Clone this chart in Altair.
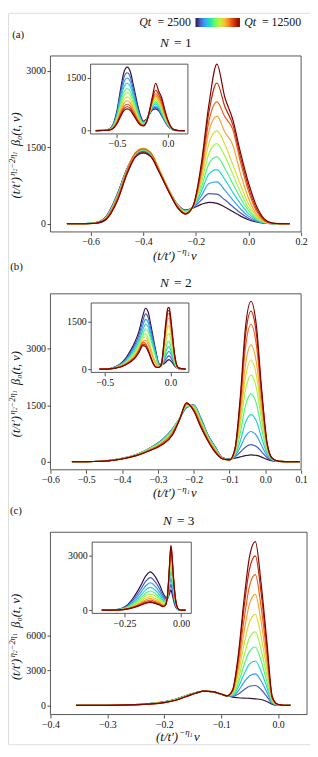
import altair as alt
import pandas as pd

QT = [2500, 3500, 4500, 5500, 6500, 7500, 8500, 9500, 10500, 11500, 12500]

# ---------------- panel (a) ----------------
A_MAIN_X = [-0.69, -0.62, -0.58, -0.54, -0.50, -0.46, -0.43, -0.40, -0.37, -0.34, -0.30, -0.27, -0.24,
            -0.21, -0.18, -0.15, -0.12, -0.09, -0.06, -0.03, 0.0, 0.03, 0.06, 0.09, 0.12, 0.157]
A_MAIN_Y = [
    [0, 3, 22, 150, 560, 1100, 1360, 1420, 1320, 1040, 640, 380, 270, 310, 380, 420, 400, 330, 240, 150, 80, 35, 10, 2, 0, 0],
    [0, 3, 22, 150, 560, 1100, 1360, 1420, 1320, 1040, 640, 380, 265, 320, 460, 590, 580, 470, 340, 210, 110, 45, 12, 2, 0, 0],
    [0, 3, 20, 140, 540, 1090, 1365, 1435, 1340, 1050, 640, 375, 255, 330, 540, 790, 820, 660, 470, 290, 150, 60, 15, 3, 0, 0],
    [0, 2, 18, 130, 520, 1080, 1370, 1450, 1360, 1060, 640, 370, 250, 330, 620, 980, 1060, 870, 620, 390, 200, 80, 20, 3, 0, 0],
    [0, 2, 18, 130, 520, 1080, 1370, 1450, 1360, 1060, 640, 370, 240, 335, 700, 1180, 1310, 1090, 790, 500, 260, 100, 25, 4, 0, 0],
    [0, 2, 16, 120, 500, 1070, 1390, 1480, 1390, 1080, 640, 360, 230, 340, 780, 1380, 1570, 1330, 980, 620, 320, 120, 30, 5, 0, 0],
    [0, 2, 16, 120, 500, 1070, 1390, 1480, 1390, 1080, 640, 360, 220, 345, 860, 1580, 1820, 1560, 1170, 760, 390, 150, 40, 6, 0, 0],
    [0, 2, 14, 110, 480, 1060, 1390, 1470, 1380, 1060, 620, 340, 210, 350, 940, 1820, 2110, 1800, 1550, 980, 500, 190, 50, 8, 1, 0],
    [0, 2, 14, 110, 480, 1060, 1390, 1470, 1380, 1060, 620, 340, 200, 350, 1010, 2020, 2390, 2100, 1850, 1200, 640, 250, 65, 10, 1, 0],
    [0, 1, 10, 90, 430, 1000, 1310, 1390, 1310, 1020, 600, 320, 195, 355, 1080, 2200, 2760, 2300, 1950, 1300, 720, 300, 80, 12, 2, 0],
    [0, 1, 10, 90, 430, 1000, 1310, 1390, 1310, 1020, 600, 320, 190, 355, 1150, 2350, 3130, 2480, 2050, 1390, 805, 355, 97, 15, 2, 0],
]
A_INSET_X = [-0.71, -0.64, -0.58, -0.54, -0.50, -0.46, -0.43, -0.40, -0.37, -0.34, -0.30, -0.27, -0.24,
             -0.21, -0.18, -0.15, -0.12, -0.09, -0.06, -0.03, 0.0, 0.03, 0.06, 0.10, 0.165]
A_INSET_Y = [
    [0, 5, 36, 163, 580, 1267, 1683, 1810, 1683, 1303, 760, 430, 270, 330, 470, 590, 620, 560, 420, 260, 130, 50, 12, 1, 0],
    [0, 5, 33, 149, 528, 1155, 1535, 1650, 1535, 1188, 693, 390, 250, 320, 480, 620, 660, 590, 440, 275, 140, 55, 14, 1, 0],
    [0, 4, 30, 135, 480, 1050, 1395, 1500, 1395, 1080, 630, 355, 235, 310, 490, 650, 700, 620, 465, 290, 150, 58, 15, 1, 0],
    [0, 4, 27, 122, 432, 945, 1256, 1350, 1256, 972, 567, 320, 215, 300, 500, 690, 760, 670, 500, 315, 165, 62, 16, 2, 0],
    [0, 4, 24, 108, 384, 840, 1116, 1200, 1116, 864, 504, 285, 200, 290, 510, 730, 820, 720, 540, 340, 180, 68, 17, 2, 0],
    [0, 3, 22, 97, 346, 756, 1004, 1080, 1004, 778, 454, 258, 185, 280, 520, 770, 880, 780, 590, 370, 195, 75, 18, 2, 0],
    [0, 3, 19, 86, 307, 672, 893, 960, 893, 691, 403, 232, 172, 272, 530, 800, 930, 830, 640, 400, 210, 80, 20, 2, 0],
    [0, 3, 17, 77, 272, 595, 790, 850, 790, 612, 357, 208, 160, 262, 535, 830, 980, 880, 690, 440, 230, 88, 22, 2, 0],
    [0, 2, 15, 68, 240, 525, 698, 750, 698, 540, 315, 188, 150, 255, 545, 870, 1050, 950, 770, 490, 255, 95, 24, 2, 0],
    [0, 2, 14, 61, 218, 476, 632, 680, 632, 490, 286, 172, 142, 250, 560, 920, 1150, 1030, 850, 540, 280, 105, 26, 3, 0],
    [0, 2, 12, 56, 198, 434, 577, 620, 577, 446, 260, 160, 135, 245, 580, 1000, 1350, 1120, 930, 590, 300, 110, 28, 3, 0],
]

# ---------------- panel (b) ----------------
B_MAIN_X = [-0.54, -0.48, -0.44, -0.40, -0.36, -0.32, -0.29, -0.26, -0.24, -0.22, -0.20, -0.18, -0.16, -0.14,
            -0.12, -0.10, -0.085, -0.07, -0.055, -0.04, -0.025, -0.01, 0.005, 0.02, 0.04, 0.07, 0.096]
B_MAIN_Y = [
    [0, 4, 25, 85, 190, 370, 560, 860, 1130, 1440, 1500, 1150, 700, 390, 110, 65, 90, 125, 160, 180, 165, 120, 60, 20, 4, 0, 0],
    [0, 4, 25, 85, 190, 370, 560, 860, 1130, 1440, 1500, 1150, 700, 390, 105, 60, 120, 250, 390, 450, 400, 260, 110, 30, 5, 0, 0],
    [0, 4, 25, 85, 190, 370, 560, 860, 1130, 1440, 1500, 1150, 700, 390, 100, 55, 140, 380, 680, 800, 700, 420, 160, 40, 6, 0, 0],
    [0, 4, 24, 82, 185, 360, 545, 840, 1140, 1470, 1480, 1100, 670, 360, 95, 52, 170, 540, 1050, 1250, 1080, 620, 220, 50, 7, 0, 0],
    [0, 4, 24, 82, 185, 360, 545, 840, 1140, 1470, 1480, 1100, 670, 360, 90, 50, 200, 750, 1500, 1800, 1540, 860, 280, 60, 8, 0, 0],
    [0, 3, 22, 78, 175, 340, 510, 800, 1130, 1500, 1450, 1040, 630, 320, 85, 48, 230, 950, 1920, 2300, 1960, 1080, 330, 65, 8, 0, 0],
    [0, 3, 22, 78, 175, 340, 510, 800, 1130, 1500, 1450, 1040, 630, 320, 82, 47, 250, 1100, 2260, 2700, 2300, 1250, 370, 70, 8, 0, 0],
    [0, 3, 21, 74, 168, 320, 475, 750, 1120, 1530, 1400, 980, 590, 290, 80, 46, 270, 1260, 2600, 3100, 2640, 1420, 400, 75, 8, 0, 0],
    [0, 3, 21, 74, 168, 320, 475, 750, 1120, 1530, 1400, 980, 590, 290, 78, 45, 300, 1470, 3070, 3650, 3100, 1660, 450, 80, 8, 0, 0],
    [0, 3, 20, 70, 160, 300, 440, 700, 1100, 1560, 1350, 920, 550, 250, 76, 45, 320, 1600, 3370, 4000, 3400, 1800, 480, 80, 8, 0, 0],
    [0, 3, 20, 70, 160, 300, 440, 700, 1100, 1560, 1350, 920, 550, 250, 75, 45, 330, 1700, 3600, 4260, 3620, 1900, 500, 85, 8, 0, 0],
]
B_INSET_X = [-0.54, -0.46, -0.42, -0.38, -0.34, -0.30, -0.27, -0.24, -0.21, -0.19, -0.17, -0.15, -0.13, -0.11,
             -0.09, -0.07, -0.05, -0.035, -0.02, -0.01, 0.0, 0.015, 0.03, 0.06, 0.115]
B_INSET_Y = [
    [0, 19, 77, 174, 347, 618, 869, 1197, 1698, 1930, 1814, 1409, 965, 540, 189, 137, 169, 225, 285, 300, 270, 195, 105, 15, 0],
    [0, 18, 70, 158, 315, 560, 788, 1085, 1540, 1750, 1645, 1278, 875, 490, 179, 154, 228, 315, 399, 420, 378, 273, 147, 21, 0],
    [0, 16, 63, 142, 284, 506, 711, 980, 1390, 1580, 1485, 1153, 790, 442, 170, 175, 296, 420, 532, 560, 504, 364, 196, 28, 0],
    [0, 14, 57, 128, 256, 454, 639, 880, 1250, 1420, 1335, 1037, 710, 398, 135, 100, 316, 540, 698, 706, 612, 396, 180, 14, 0],
    [0, 13, 51, 115, 230, 410, 576, 794, 1126, 1280, 1203, 934, 640, 358, 124, 105, 391, 675, 873, 882, 765, 495, 225, 18, 0],
    [0, 12, 46, 104, 207, 368, 529, 759, 1081, 1127, 978, 690, 403, 196, 81, 104, 495, 863, 1116, 1127, 978, 633, 288, 23, 0],
    [0, 10, 42, 94, 187, 333, 478, 686, 978, 1019, 884, 624, 364, 177, 76, 115, 598, 1050, 1358, 1372, 1190, 770, 350, 28, 0],
    [0, 9, 38, 85, 169, 301, 432, 620, 884, 921, 799, 564, 329, 160, 73, 127, 702, 1238, 1601, 1617, 1403, 908, 413, 33, 0],
    [0, 9, 34, 77, 155, 275, 396, 602, 851, 817, 645, 404, 181, 69, 52, 125, 760, 1350, 1746, 1764, 1530, 990, 450, 36, 0],
    [0, 8, 32, 72, 144, 256, 368, 560, 792, 760, 600, 376, 168, 64, 51, 130, 802, 1425, 1843, 1862, 1615, 1045, 475, 38, 0],
    [0, 8, 30, 68, 135, 240, 345, 525, 743, 713, 563, 353, 158, 60, 50, 135, 844, 1500, 1940, 1960, 1700, 1100, 500, 40, 0],
]

# ---------------- panel (c) ----------------
C_MAIN_X = [-0.355, -0.30, -0.26, -0.23, -0.20, -0.18, -0.16, -0.145, -0.13, -0.115, -0.10, -0.09,
            -0.08, -0.07, -0.06, -0.05, -0.04, -0.03, -0.02, -0.01, 0.0, 0.01, 0.0217]
C_MAIN_Y = [
    [0, 8, 55, 140, 300, 520, 860, 1080, 1210, 1150, 950, 830, 700, 650, 620, 600, 560, 500, 330, 90, 10, 0, 0],
    [0, 8, 55, 140, 300, 520, 860, 1080, 1210, 1150, 950, 830, 757, 969, 1338, 1637, 1700, 1355, 775, 141, 16, 0, 0],
    [0, 8, 55, 140, 300, 520, 860, 1080, 1210, 1150, 950, 830, 807, 1249, 1968, 2547, 2700, 2105, 1165, 186, 21, 0, 0],
    [0, 8, 55, 140, 300, 520, 860, 1080, 1210, 1150, 950, 830, 862, 1557, 2661, 3548, 3800, 2930, 1594, 236, 26, 0, 0],
    [0, 6, 48, 125, 270, 485, 820, 1060, 1220, 1170, 960, 820, 922, 1893, 3417, 4640, 5000, 3830, 2062, 290, 32, 0, 0],
    [0, 6, 48, 125, 270, 485, 820, 1060, 1220, 1170, 960, 820, 987, 2257, 4236, 5823, 6300, 4805, 2569, 348, 39, 0, 0],
    [0, 6, 48, 125, 270, 485, 820, 1060, 1220, 1170, 960, 820, 1062, 2677, 5181, 7188, 7800, 5930, 3154, 416, 46, 0, 0],
    [0, 6, 48, 125, 270, 485, 820, 1060, 1220, 1170, 960, 820, 1147, 3153, 6252, 8735, 9500, 7205, 3817, 492, 55, 0, 0],
    [0, 5, 40, 110, 230, 440, 780, 1040, 1220, 1180, 970, 810, 1232, 3629, 7323, 10282, 11200, 8480, 4480, 569, 63, 0, 0],
    [0, 5, 40, 110, 230, 440, 780, 1040, 1220, 1180, 970, 810, 1312, 4077, 8331, 11738, 12800, 9680, 5104, 641, 71, 0, 0],
    [0, 5, 40, 110, 230, 440, 780, 1040, 1220, 1180, 970, 810, 1300, 4300, 9000, 12800, 14030, 10500, 5600, 700, 80, 10, 0],
]
C_INSET_X = [-0.35, -0.30, -0.27, -0.24, -0.21, -0.18, -0.155, -0.136, -0.115, -0.095, -0.08, -0.07,
             -0.06, -0.055, -0.05, -0.045, -0.04, -0.035, -0.03, -0.02, -0.01, 0.0, 0.02]
C_INSET_Y = [
    [0, 21, 63, 252, 693, 1302, 1890, 2100, 1848, 1386, 945, 720, 642, 762, 948, 1110, 912, 627, 378, 93, 9, 0, 0],
    [0, 18, 53, 214, 587, 1104, 1602, 1780, 1566, 1175, 801, 625, 642, 866, 1169, 1428, 1188, 814, 491, 118, 13, 0, 0],
    [0, 15, 45, 180, 495, 930, 1350, 1500, 1320, 990, 675, 543, 650, 975, 1395, 1750, 1465, 1003, 605, 143, 16, 0, 0],
    [0, 13, 38, 150, 413, 775, 1125, 1250, 1100, 825, 563, 473, 675, 1113, 1663, 2125, 1788, 1223, 738, 173, 20, 0, 0],
    [0, 11, 32, 126, 347, 651, 945, 1050, 924, 693, 473, 419, 711, 1259, 1937, 2505, 2114, 1445, 872, 203, 24, 0, 0],
    [0, 9, 26, 106, 290, 546, 792, 880, 774, 581, 396, 373, 744, 1388, 2177, 2838, 2400, 1639, 989, 229, 28, 0, 0],
    [0, 7, 22, 89, 244, 459, 666, 740, 651, 488, 333, 334, 763, 1476, 2346, 3074, 2602, 1777, 1072, 247, 30, 0, 0],
    [0, 6, 19, 76, 208, 391, 567, 630, 554, 416, 284, 304, 779, 1547, 2482, 3263, 2764, 1888, 1139, 262, 32, 0, 0],
    [0, 5, 16, 65, 178, 335, 486, 540, 475, 356, 243, 279, 789, 1600, 2583, 3404, 2886, 1970, 1189, 273, 34, 0, 0],
    [0, 5, 14, 56, 155, 291, 423, 470, 414, 310, 212, 259, 793, 1633, 2649, 3497, 2966, 2025, 1222, 281, 35, 0, 0],
    [0, 4, 13, 50, 139, 260, 378, 420, 370, 277, 189, 244, 794, 1651, 2688, 3552, 3013, 2057, 1242, 285, 35, 0, 0],
]

# colour map stops (matplotlib "turbo") and their Qt positions
TURBO_COLORS = ["#30123b", "#4662d7", "#36aaf9", "#1ae4b6", "#72fe5e",
                "#c7ef34", "#faba39", "#f66b19", "#cb2a04", "#7a0403"]
TURBO_QT = [2500, 3611, 4722, 5833, 6944, 8056, 9167, 10278, 11389, 12500]

# ---------------- layout helpers ----------------
FONT = "Liberation Serif, DejaVu Serif, serif"
M = 8
W, H = 306, 741
ONE = alt.Data(values=[{"k": 1}])


def p(v):
    return v - M


COLOR = alt.Color(
    "Qt:Q",
    scale=alt.Scale(domain=TURBO_QT, range=TURBO_COLORS, interpolate="rgb"),
    legend=alt.Legend(orient="none", legendX=p(198), legendY=p(13.3), direction="horizontal",
                      gradientLength=45, gradientThickness=9, title=None, labelOpacity=0,
                      labelFontSize=1, padding=0, gradientStrokeWidth=0),
)


def axis(orient, vals, fmt, offset):
    return alt.Axis(orient=orient, values=vals, format=fmt, offset=offset, domain=False, grid=False,
                    ticks=True, tickSize=3.5, tickWidth=0.8, tickColor="#222",
                    labelFont=FONT, labelFontSize=10, labelColor="#111", labelPadding=1.5,
                    labelFlush=False, labelOverlap=False, title=None)


def curves(xs, rows, xdom, xr, ydom, yr, xv, xf, yv, yf):
    recs = []
    for qt, row in zip(QT, rows):
        for x, y in zip(xs, row):
            recs.append({"x": x, "y": y, "Qt": qt})
    df = pd.DataFrame(recs)
    return alt.Chart(df).mark_line(interpolate="monotone", strokeWidth=1.2).encode(
        x=alt.X("x:Q", scale=alt.Scale(domain=xdom, range=[p(xr[0]), p(xr[1])], nice=False, zero=False),
                axis=axis("bottom", xv, xf, p(yr[0]) - H)),
        y=alt.Y("y:Q", scale=alt.Scale(domain=ydom, range=[p(yr[0]), p(yr[1])], nice=False, zero=False),
                axis=axis("left", yv, yf, -p(xr[0]))),
        color=COLOR,
        detail="Qt:N",
    )


def box(x0, x1, y0, y1, white=False):
    if white:
        mk = alt.Chart(ONE).mark_rect(fill="white", stroke="#444", strokeWidth=0.9)
    else:
        mk = alt.Chart(ONE).mark_rect(fillOpacity=0, stroke="#444", strokeWidth=0.9)
    return mk.encode(x=alt.value(p(x0)), x2=alt.value(p(x1)), y=alt.value(p(y0)), y2=alt.value(p(y1)))


def txt(s, x, y, size=10, style="normal", align="center", angle=0):
    kw = dict(text=s, font=FONT, fontSize=size, fontStyle=style, align=align, baseline="middle", color="#111")
    if angle:
        kw["angle"] = angle
    return alt.Chart(ONE).mark_text(**kw).encode(x=alt.value(p(x)), y=alt.value(p(y)))


def title_n(n, cx, cy):
    return [txt("N", cx - 16, cy, 13.5, "italic", "left"), txt("= " + n, cx + 16, cy, 13.5, "normal", "right")]


def xtitle(cx, cy):
    s = cx - 23
    return [txt("(t/t\u2032)", s, cy, 13, "italic", "left"),
            txt("\u2212\u03b7\u2081", s + 23.5, cy - 5, 9, "italic", "left"),
            txt("\u03bd", s + 38.5, cy, 13, "italic", "left")]


def ytitle(x, yb):
    return [txt("(t/t\u2032)", x, yb, 12.5, "italic", "left", 270),
            txt("\u03b7\u2082\u22122\u03b7\u2081", x - 4, yb - 23, 8.5, "italic", "left", 270),
            txt("\u03b2\u2080(t, \u03bd)", x, yb - 53, 12.5, "italic", "left", 270)]


layers = []
# panel a
layers.append(curves(A_MAIN_X, A_MAIN_Y, [-0.7525, 0.2], [51, 305], [-160, 3290], [230, 51.7],
                     [-0.6, -0.4, -0.2, 0.0, 0.2], ".1f", [0, 1500, 3000], "d"))
layers.append(box(51, 305, 51.7, 230))
layers.append(box(91.7, 190.3, 60, 130.7, white=True))
layers.append(curves(A_INSET_X, A_INSET_Y, [-0.76, 0.197], [91.7, 190.3], [-96, 1894], [130.7, 60],
                     [-0.5, 0.0], ".1f", [0, 1500], "d"))
# panel b
layers.append(curves(B_MAIN_X, B_MAIN_Y, [-0.6, 0.1], [51, 305], [-217, 4458], [471, 292.7],
                     [-0.6, -0.5, -0.4, -0.3, -0.2, -0.1, 0.0, 0.1], ".1f", [0, 1500, 3000], "d"))
layers.append(box(51, 305, 292.7, 471))
layers.append(box(92.3, 191.3, 302, 372.3, white=True))
layers.append(curves(B_INSET_X, B_INSET_Y, [-0.603, 0.14], [92.3, 191.3], [-104, 2097], [372.3, 302],
                     [-0.5, 0.0], ".1f", [0, 1500], "d"))
# panel c
layers.append(curves(C_MAIN_X, C_MAIN_Y, [-0.4, 0.0508], [51, 311], [-786, 14827], [719, 534.3],
                     [-0.4, -0.3, -0.2, -0.1, 0.0], ".1f", [0, 3000, 6000], "d"))
layers.append(box(51, 311, 534.3, 719))
layers.append(box(93.3, 193.7, 544.3, 616.5, white=True))
layers.append(curves(C_INSET_X, C_INSET_Y, [-0.3926, 0.045], [93.3, 193.7], [-180, 3731], [616.5, 544.3],
                     [-0.25, 0.0], ".2f", [0, 3000], "d"))

# texts
layers += [txt("(a)", 18.3, 30, 11), txt("(b)", 16.7, 266, 11), txt("(c)", 16, 512.3, 11)]
layers += [txt("Qt", 141, 17.7, 12, "italic", "left"), txt("= 2500", 193.3, 17.7, 12, "normal", "right"),
           txt("Qt", 247.3, 17.7, 12, "italic", "left"), txt("= 12500", 305, 17.7, 12, "normal", "right")]
layers += title_n("1", 178, 39) + title_n("2", 178, 281.7) + title_n("3", 181, 523.3)
layers += xtitle(178, 254) + xtitle(178, 495) + xtitle(181, 741.5)
layers += ytitle(16, 196) + ytitle(16, 438) + ytitle(16, 684)

chart = (
    alt.layer(*layers)
    .resolve_scale(x="independent", y="independent")
    .properties(width=W, height=H, autosize=alt.AutoSizeParams(type="none"), padding=0)
    .configure_view(strokeWidth=0)
    .configure(background="white")
)

chart.save("out.html", embed_options={"renderer": "svg", "actions": False})
